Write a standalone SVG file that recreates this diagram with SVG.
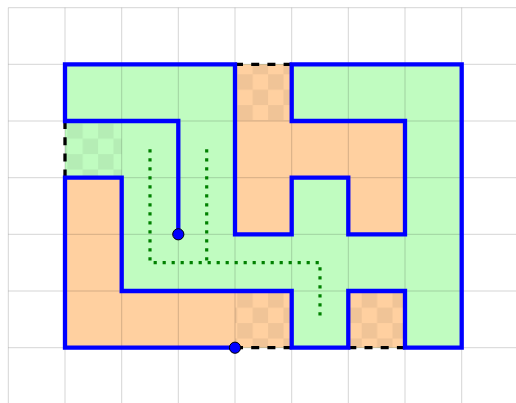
<svg xmlns="http://www.w3.org/2000/svg" width="516" height="403" viewBox="0 0 516 403">
  <style>
    .green { fill: #c0fcc0; }
    .orange { fill: #ffd0a0; }
    .grid { stroke: #000; stroke-opacity: 0.17; stroke-width: 1; fill: none; }
    .wall { fill: none; stroke: #0000ff; stroke-width: 4.3; stroke-linejoin: miter; stroke-linecap: butt; }
    .door { fill: none; stroke: #000; stroke-width: 3.3; stroke-dasharray: 8 8.2; }
    .trail { fill: none; stroke: #008000; stroke-width: 3.2; stroke-dasharray: 3.2 5.8; }
    .dot { fill: #0000ff; stroke: #000; stroke-width: 1; }
    .chk { fill: #000; fill-opacity: 0.06; }
  </style>
  <defs>
    <pattern id="pA" patternUnits="userSpaceOnUse" x="67.3" y="123.3" width="30.8" height="30.8">
      <rect class="chk" x="0" y="0" width="15.4" height="15.4"/>
      <rect class="chk" x="15.4" y="15.4" width="15.4" height="15.4"/>
    </pattern>
    <pattern id="pB" patternUnits="userSpaceOnUse" x="237.3" y="74.3" width="30.8" height="30.8">
      <rect class="chk" x="0" y="0" width="15.4" height="15.4"/>
      <rect class="chk" x="15.4" y="15.4" width="15.4" height="15.4"/>
    </pattern>
    <pattern id="pC" patternUnits="userSpaceOnUse" x="237.3" y="292.3" width="30.8" height="30.8">
      <rect class="chk" x="0" y="0" width="15.4" height="15.4"/>
      <rect class="chk" x="15.4" y="15.4" width="15.4" height="15.4"/>
    </pattern>
    <pattern id="pD" patternUnits="userSpaceOnUse" x="361.7" y="292.3" width="30.8" height="30.8">
      <rect class="chk" x="0" y="0" width="15.4" height="15.4"/>
      <rect class="chk" x="15.4" y="15.4" width="15.4" height="15.4"/>
    </pattern>
  </defs>
  <rect x="0" y="0" width="516" height="403" fill="#ffffff"/>

  <g id="regions">
    <rect class="green" x="65" y="64.3" width="396.7" height="283.4"/>
    <polygon class="orange" points="65,177.7 121.7,177.7 121.7,291 235,291 235,347.7 65,347.7"/>
    <polygon class="orange" points="235,121 405,121 405,234.3 348.3,234.3 348.3,177.7 291.7,177.7 291.7,234.3 235,234.3"/>
  </g>

  <g id="cell-door-left">
    <rect class="green" x="65" y="121" width="56.7" height="56.7"/>
    <rect x="65" y="121" width="56.7" height="56.7" fill="url(#pA)"/>
  </g>
  <g id="cell-door-top">
    <rect class="orange" x="235" y="64.3" width="56.7" height="56.7"/>
    <rect x="235" y="64.3" width="56.7" height="56.7" fill="url(#pB)"/>
  </g>
  <g id="cell-door-bottom-1">
    <rect class="orange" x="235" y="291" width="56.7" height="56.7"/>
    <rect x="235" y="291" width="56.7" height="56.7" fill="url(#pC)"/>
  </g>
  <g id="cell-door-bottom-2">
    <rect class="orange" x="348.3" y="291" width="56.7" height="56.7"/>
    <rect x="348.3" y="291" width="56.7" height="56.7" fill="url(#pD)"/>
  </g>

  <g id="grid" class="grid">
    <path d="M8.3,7.7 V403 M65,7.7 V403 M121.7,7.7 V403 M178.3,7.7 V403 M235,7.7 V403 M291.7,7.7 V403 M348.3,7.7 V403 M405,7.7 V403 M461.7,7.7 V403"/>
    <path d="M8.3,7.7 H516 M8.3,64.3 H516 M8.3,121 H516 M8.3,177.7 H516 M8.3,234.3 H516 M8.3,291 H516 M8.3,347.7 H516"/>
  </g>

  <g id="connectors">
    <path class="trail" d="M150,149.3 V262.7 H320 V319.3"/>
    <path class="trail" d="M206.7,149.3 V262.7"/>
  </g>

  <g id="doors">
    <path class="door" d="M235,64.3 H291.7"/>
    <path class="door" d="M65,121 V177.7"/>
    <path class="door" d="M235,347.7 H291.7"/>
    <path class="door" d="M348.3,347.7 H405"/>
  </g>

  <g id="walls">
    <path class="wall" d="M178.3,234.3 V121 H65 V64.3 H235 V234.3 H291.7 V177.7 H348.3 V234.3 H405 V121 H291.7 V64.3 H461.7 V347.7 H405 V291 H348.3 V347.7 H291.7 V291 H121.7 V177.7 H65 V347.7 H235"/>
  </g>

  <g id="node-end-1">
    <circle class="dot" cx="178.3" cy="234.3" r="5.6"/>
  </g>
  <g id="node-end-2">
    <circle class="dot" cx="235" cy="347.7" r="5.6"/>
  </g>
</svg>
